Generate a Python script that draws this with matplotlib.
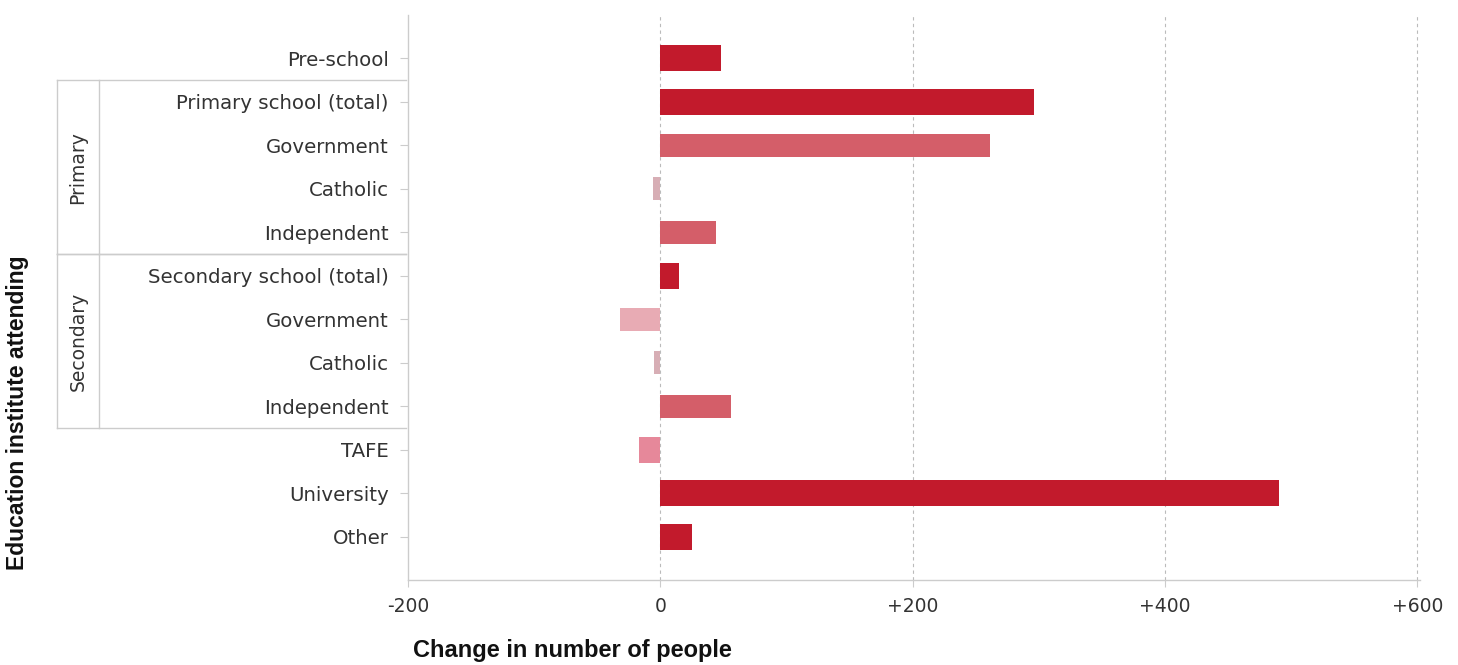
import matplotlib
matplotlib.use('Agg')
import matplotlib.pyplot as plt
import matplotlib.transforms as mtransforms
import numpy as np

# data
labels = ['Pre-school', 'Primary school (total)', 'Government', 'Catholic', 'Independent',
          'Secondary school (total)', 'Government', 'Catholic', 'Independent',
          'TAFE', 'University', 'Other']
values = [48, 296, 261, -6, 44, 15, -32, -5, 56, -17, 490, 25]
is_total = [True, True, False, False, False, True, False, False, False, True, True, True]
bar_colors = ['#C21A2C', '#C21A2C', '#D45E69', '#D7AEB5', '#D45E69',
              '#C21A2C', '#E8ABB4', '#D7AEB5', '#D45E69',
              '#E6889A', '#C21A2C', '#C21A2C']
groups = [('Primary', 1, 4), ('Secondary', 5, 8)]
xticks = [-200, 0, 200, 400, 600]
xticklabels = ['-200', '0', '+200', '+400', '+600']

fig = plt.figure(figsize=(14.58, 6.65), dpi=100)
ax = fig.add_axes([408 / 1458, 1 - 580 / 665, (1420 - 408) / 1458, (580 - 15) / 665])

y = np.arange(len(labels))
heights = [0.6 if t else 0.53 for t in is_total]
ax.barh(y, values, height=heights, color=bar_colors, zorder=3)

ax.set_ylim(len(labels), -1)
ax.set_xlim(-200, 602)
ax.set_yticks(y)
ax.set_yticklabels(labels, fontsize=14.2, color='#333333')
ax.set_xticks(xticks)
ax.set_xticklabels(xticklabels, fontsize=13.5, color='#333333')
ax.tick_params(axis='y', length=6, color='#cccccc', pad=8)
ax.tick_params(axis='x', length=5, color='#cccccc', pad=7)

for s in ['top', 'right']:
    ax.spines[s].set_visible(False)
for s in ['left', 'bottom']:
    ax.spines[s].set_color('#cccccc')
    ax.spines[s].set_linewidth(1)

for xv in xticks[1:]:
    ax.axvline(xv, color='#bbbbbb', linestyle=(0, (3, 3)), linewidth=0.8, zorder=1)

# group boxes to the left of the axis
tr = mtransforms.blended_transform_factory(fig.transFigure, ax.transData)
x0, x1, x2 = 57 / 1458, 99 / 1458, 406 / 1458
lc = '#cccccc'
for name, a, b in groups:
    top, bot = a - 0.5, b + 0.5
    ax.plot([x0, x2], [top, top], transform=tr, color=lc, lw=1, clip_on=False)
    ax.plot([x0, x2], [bot, bot], transform=tr, color=lc, lw=1, clip_on=False)
    ax.plot([x0, x0], [top, bot], transform=tr, color=lc, lw=1, clip_on=False)
    ax.plot([x1, x1], [top, bot], transform=tr, color=lc, lw=1, clip_on=False)
    ax.text((x0 + x1) / 2, (a + b) / 2, name, transform=tr, rotation=90,
            ha='center', va='center', fontsize=13.5, color='#333333')

fig.text(18 / 1458, 1 - 413 / 665, 'Education institute attending', rotation=90,
         ha='center', va='center', fontsize=16.5, fontweight='bold',
         family='Liberation Sans', color='#111111')
fig.text(413 / 1458, 1 - 651 / 665, 'Change in number of people',
         ha='left', va='center', fontsize=17, fontweight='bold',
         family='Liberation Sans', color='#111111')

fig.savefig('out.png', dpi=100)
